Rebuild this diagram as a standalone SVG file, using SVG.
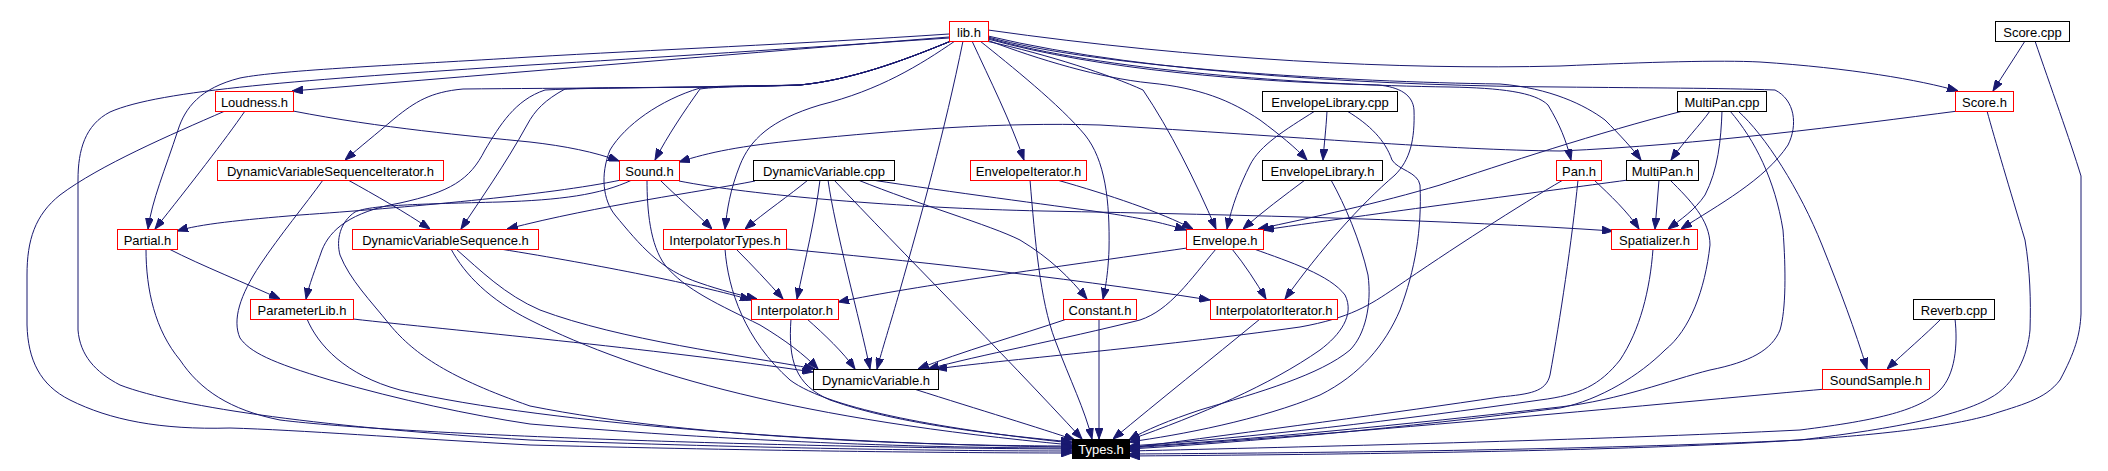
<svg xmlns="http://www.w3.org/2000/svg" width="2108" height="471" viewBox="0 0 2108 471">
<style>
.n rect{fill:#fff;stroke:#f00;stroke-width:1}
.n.b rect{stroke:#000}
.n.t rect{fill:#000;stroke:#000}
.n text{font-family:"Liberation Sans",Arial,Helvetica,sans-serif;font-size:13px;text-anchor:middle;fill:#000}
.n.t text{fill:#fff}
#edges path{fill:none;stroke:#191970;stroke-width:1;marker-end:url(#a)}
</style>
<defs>
<marker id="a" markerWidth="11" markerHeight="8" refX="11" refY="4" orient="auto" markerUnits="userSpaceOnUse">
<path d="M0,0 L11,4 L0,8 z" fill="#191970" stroke="#191970" stroke-width="1"/>
</marker>
</defs>
<rect x="0" y="0" width="2108" height="471" fill="#fff"/>
<g id="edges">
<path d="M949,37 C 760,52 520,72 292,91"/>
<path d="M949,34 C 800,44 650,50 530,57 C 400,65 280,70 240,78 C 200,88 185,108 178,130 C 165,170 152,200 148,229"/>
<path d="M949,38 C 800,48 650,58 530,65 C 300,80 160,90 110,112 C 85,125 78,150 78,180 L 78,330 C 80,355 95,372 120,385 C 180,408 330,428 530,440 C 800,450 1000,451 1072,451"/>
<path d="M951,41 C 900,62 850,80 800,85 C 700,88 560,88 463,89 C 430,92 415,102 395,118 C 375,135 360,147 345,160"/>
<path d="M951,41 C 900,62 850,80 800,85 C 760,87 720,86 700,89 C 685,110 668,135 655,160"/>
<path d="M951,41 C 900,62 850,80 800,85 C 700,88 600,87 565,89 C 545,100 535,110 527,125 C 505,165 480,200 461,229"/>
<path d="M951,41 C 900,62 850,80 800,85 C 700,88 600,87 545,90 C 515,100 500,125 485,150 C 470,180 450,192 400,203 C 350,212 330,230 322,250 C 315,270 309,285 306,299"/>
<path d="M955,41 C 920,65 880,90 820,105 C 770,120 750,140 740,165 C 730,190 727,210 725,229"/>
<path d="M951,41 C 900,62 850,80 800,85 C 760,86 720,85 700,88 C 660,100 625,125 610,150 C 600,175 603,200 615,215 C 640,245 660,270 700,283 C 720,290 740,295 757,299"/>
<path d="M963,41 C 945,130 920,220 900,290 C 890,325 882,350 877,369"/>
<path d="M972,41 C 990,80 1010,120 1024,160"/>
<path d="M980,41 C 1010,65 1060,105 1085,135 C 1105,160 1110,200 1109,250 C 1108,275 1105,290 1103,299"/>
<path d="M986,41 C 1050,55 1110,75 1143,90 C 1170,130 1195,180 1216,229"/>
<path d="M987,40 C 1040,60 1100,78 1150,83 C 1200,88 1230,100 1260,120 C 1280,135 1295,147 1307,160"/>
<path d="M988,39 C 1100,70 1250,82 1378,85 C 1400,87 1413,95 1414,110 C 1415,140 1410,160 1395,175 C 1360,205 1320,250 1285,299"/>
<path d="M988,38 C 1100,70 1300,85 1450,87 C 1500,88 1535,92 1548,105 C 1560,125 1566,140 1571,160"/>
<path d="M988,37 C 1100,68 1350,82 1500,84 C 1550,88 1585,105 1605,120 C 1620,135 1632,148 1641,160"/>
<path d="M988,36 C 1150,75 1400,86 1560,87 C 1650,88 1720,88 1775,90 C 1795,100 1798,125 1788,145 C 1765,180 1718,205 1681,229"/>
<path d="M988,30 C 1200,60 1400,70 1560,66 C 1650,62 1720,60 1760,62 C 1850,68 1920,80 1958,91"/>
<path d="M245,111 C 225,140 190,185 155,229"/>
<path d="M293,111 C 380,128 470,136 530,142 C 565,146 595,152 619,161"/>
<path d="M225,111 C 170,135 100,165 60,195 C 35,215 27,240 27,275 L 27,325 C 28,360 40,385 70,400 C 110,420 160,430 230,428 C 300,430 400,438 530,445 C 800,452 1000,453 1072,453"/>
<path d="M2025,41 C 2015,57 2003,75 1993,91"/>
<path d="M2035,41 C 2050,85 2070,140 2081,176 L 2081,314 C 2080,335 2075,352 2060,380 C 2045,400 2020,405 1990,415 C 1900,440 1700,452 1129,456"/>
<path d="M1958,111 C 1850,125 1700,145 1560,151 C 1450,150 1300,137 1100,125 C 1000,122 900,130 800,140 C 740,146 710,152 679,162"/>
<path d="M1987,111 C 1995,140 2010,190 2025,240 C 2030,270 2031,300 2030,330 C 2028,355 2015,385 1990,398 C 1960,415 1900,428 1800,440 C 1600,450 1300,453 1129,454"/>
<path d="M1327,111 C 1326,130 1324,145 1323,160"/>
<path d="M1315,111 C 1285,130 1260,145 1250,165 C 1240,185 1232,205 1227,229"/>
<path d="M1347,111 C 1370,125 1385,140 1392,160 C 1398,170 1418,172 1420,185 C 1422,230 1415,270 1400,310 C 1385,345 1360,375 1320,395 C 1260,420 1180,435 1129,442"/>
<path d="M1710,111 C 1700,125 1685,140 1671,160"/>
<path d="M1722,111 C 1721,140 1718,170 1705,195 C 1695,210 1680,220 1668,229"/>
<path d="M1683,111 C 1600,132 1500,165 1440,185 C 1380,203 1310,218 1258,229"/>
<path d="M1730,111 C 1755,140 1775,180 1783,230 C 1786,270 1786,310 1780,330 C 1772,350 1750,362 1710,370 C 1670,380 1620,400 1560,407 C 1400,425 1250,440 1129,447"/>
<path d="M1738,111 C 1765,135 1800,190 1822,245 C 1840,290 1855,330 1867,369"/>
<path d="M348,180 C 375,195 405,212 430,229"/>
<path d="M323,180 C 305,205 280,235 260,265 C 240,295 232,320 240,338 C 250,352 270,362 330,380 C 400,400 470,415 530,424 C 800,447 1000,448 1072,448"/>
<path d="M621,180 C 550,195 400,208 300,215 C 240,220 200,224 177,231"/>
<path d="M632,180 C 600,195 560,200 500,202 C 420,204 370,205 355,212 C 340,222 336,240 340,255 C 350,280 370,300 390,325 C 415,355 450,378 530,406 C 700,440 950,446 1072,446"/>
<path d="M647,180 C 647,210 650,245 665,265 C 685,290 720,305 760,325 C 785,340 805,355 818,369"/>
<path d="M660,180 C 675,195 695,212 712,229"/>
<path d="M679,181 C 750,195 900,208 1043,211 C 1250,215 1450,220 1613,231"/>
<path d="M755,181 C 700,192 600,205 507,229"/>
<path d="M808,180 C 790,195 765,212 745,229"/>
<path d="M820,180 C 815,220 805,260 797,299"/>
<path d="M828,180 C 835,230 860,320 870,369"/>
<path d="M834,180 C 900,250 1000,350 1082,439"/>
<path d="M858,180 C 920,205 990,225 1020,240 C 1050,258 1070,278 1087,299"/>
<path d="M872,180 C 950,192 1050,205 1100,212 C 1140,218 1160,222 1186,230"/>
<path d="M1057,180 C 1110,195 1160,212 1193,229"/>
<path d="M1030,180 C 1035,240 1040,300 1055,340 C 1070,380 1085,410 1092,439"/>
<path d="M1305,180 C 1285,195 1262,212 1243,229"/>
<path d="M1331,180 C 1345,205 1360,240 1368,275 C 1372,305 1365,335 1350,350 C 1320,375 1260,392 1200,410 C 1170,420 1145,430 1129,440"/>
<path d="M1594,180 C 1610,195 1628,212 1639,229"/>
<path d="M1578,180 C 1572,240 1560,320 1550,375 C 1546,392 1530,394 1500,397 C 1400,412 1250,432 1129,448"/>
<path d="M1563,180 C 1520,205 1450,250 1395,288 C 1370,305 1350,318 1300,327 C 1150,348 1000,360 936,369"/>
<path d="M1659,180 L 1655,229"/>
<path d="M1628,180 C 1540,192 1400,210 1263,230"/>
<path d="M1670,180 C 1690,200 1710,220 1710,245 C 1705,290 1690,330 1665,350 C 1640,375 1600,400 1560,408 C 1400,428 1250,442 1129,449"/>
<path d="M1653,249 C 1650,290 1640,330 1620,360 C 1600,385 1580,395 1540,400 C 1400,420 1250,438 1129,446"/>
<path d="M169,249 C 200,265 250,285 280,299"/>
<path d="M146,249 C 146,290 155,330 180,360 C 200,390 230,410 280,420 C 400,435 800,448 1072,449"/>
<path d="M500,249 C 600,265 700,285 751,300"/>
<path d="M456,249 C 480,270 505,295 540,310 C 620,340 740,355 815,369"/>
<path d="M451,249 C 465,275 490,300 530,320 C 640,375 800,420 1072,445"/>
<path d="M736,249 C 752,265 768,282 783,299"/>
<path d="M725,249 C 728,290 745,340 790,380 C 830,410 950,430 1072,443"/>
<path d="M786,249 C 900,260 1050,275 1210,300"/>
<path d="M353,319 C 450,330 650,348 813,372"/>
<path d="M307,319 C 318,345 345,375 400,390 C 550,425 850,445 1072,447"/>
<path d="M807,319 C 825,335 843,352 855,369"/>
<path d="M791,319 C 788,360 795,385 830,400 C 900,425 1000,435 1072,442"/>
<path d="M1187,248 C 1050,268 920,285 838,302"/>
<path d="M1216,249 C 1190,280 1170,310 1140,320 C 1060,340 980,355 928,369"/>
<path d="M1232,249 C 1245,265 1256,282 1266,299"/>
<path d="M1254,249 C 1290,262 1330,275 1345,295 C 1355,315 1340,335 1320,350 C 1270,385 1200,415 1129,440"/>
<path d="M1067,319 C 1020,335 960,352 918,369"/>
<path d="M1099,319 L 1099,439"/>
<path d="M1260,319 C 1210,360 1160,400 1113,439"/>
<path d="M1941,319 C 1925,335 1905,352 1887,369"/>
<path d="M1955,319 C 1958,345 1955,375 1940,390 C 1920,410 1880,420 1800,430 C 1600,440 1300,447 1129,451"/>
<path d="M1826,389 C 1700,400 1400,430 1129,448"/>
<path d="M914,389 C 980,410 1040,428 1075,440"/>
</g>
<g id="lib_h" class="n"><rect x="949.5" y="21.5" width="39" height="20"/><text x="969" y="36.5">lib.h</text></g>
<g id="Score_cpp" class="n b"><rect x="1995.5" y="21.5" width="74" height="20"/><text x="2032.5" y="36.5">Score.cpp</text></g>
<g id="Loudness_h" class="n"><rect x="215.5" y="91.5" width="78" height="20"/><text x="254.5" y="106.5">Loudness.h</text></g>
<g id="EnvelopeLibrary_cpp" class="n b"><rect x="1262.5" y="91.5" width="135" height="20"/><text x="1330" y="106.5">EnvelopeLibrary.cpp</text></g>
<g id="MultiPan_cpp" class="n b"><rect x="1677.5" y="91.5" width="89" height="20"/><text x="1722" y="106.5">MultiPan.cpp</text></g>
<g id="Score_h" class="n"><rect x="1955.5" y="91.5" width="58" height="20"/><text x="1984.5" y="106.5">Score.h</text></g>
<g id="DynamicVariableSequenceIterator_h" class="n"><rect x="217.5" y="160.5" width="226" height="20"/><text x="330.5" y="175.5">DynamicVariableSequenceIterator.h</text></g>
<g id="Sound_h" class="n"><rect x="619.5" y="160.5" width="60" height="20"/><text x="649.5" y="175.5">Sound.h</text></g>
<g id="DynamicVariable_cpp" class="n b"><rect x="753.5" y="160.5" width="141" height="20"/><text x="824" y="175.5">DynamicVariable.cpp</text></g>
<g id="EnvelopeIterator_h" class="n"><rect x="970.5" y="160.5" width="116" height="20"/><text x="1028.5" y="175.5">EnvelopeIterator.h</text></g>
<g id="EnvelopeLibrary_h" class="n b"><rect x="1262.5" y="160.5" width="120" height="20"/><text x="1322.5" y="175.5">EnvelopeLibrary.h</text></g>
<g id="Pan_h" class="n"><rect x="1556.5" y="160.5" width="45" height="20"/><text x="1579" y="175.5">Pan.h</text></g>
<g id="MultiPan_h" class="n b"><rect x="1626.5" y="160.5" width="72" height="20"/><text x="1662.5" y="175.5">MultiPan.h</text></g>
<g id="Partial_h" class="n"><rect x="117.5" y="229.5" width="60" height="20"/><text x="147.5" y="244.5">Partial.h</text></g>
<g id="DynamicVariableSequence_h" class="n"><rect x="352.5" y="229.5" width="186" height="20"/><text x="445.5" y="244.5">DynamicVariableSequence.h</text></g>
<g id="InterpolatorTypes_h" class="n"><rect x="663.5" y="229.5" width="123" height="20"/><text x="725" y="244.5">InterpolatorTypes.h</text></g>
<g id="Envelope_h" class="n"><rect x="1186.5" y="229.5" width="77" height="20"/><text x="1225" y="244.5">Envelope.h</text></g>
<g id="Spatializer_h" class="n"><rect x="1611.5" y="229.5" width="86" height="20"/><text x="1654.5" y="244.5">Spatializer.h</text></g>
<g id="ParameterLib_h" class="n"><rect x="250.5" y="299.5" width="103" height="20"/><text x="302" y="314.5">ParameterLib.h</text></g>
<g id="Interpolator_h" class="n"><rect x="751.5" y="299.5" width="87" height="20"/><text x="795" y="314.5">Interpolator.h</text></g>
<g id="Constant_h" class="n"><rect x="1063.5" y="299.5" width="73" height="20"/><text x="1100" y="314.5">Constant.h</text></g>
<g id="InterpolatorIterator_h" class="n"><rect x="1210.5" y="299.5" width="127" height="20"/><text x="1274" y="314.5">InterpolatorIterator.h</text></g>
<g id="Reverb_cpp" class="n b"><rect x="1913.5" y="299.5" width="81" height="20"/><text x="1954" y="314.5">Reverb.cpp</text></g>
<g id="DynamicVariable_h" class="n b"><rect x="813.5" y="369.5" width="125" height="20"/><text x="876" y="384.5">DynamicVariable.h</text></g>
<g id="SoundSample_h" class="n"><rect x="1822.5" y="369.5" width="107" height="20"/><text x="1876" y="384.5">SoundSample.h</text></g>
<g id="Types_h" class="n t"><rect x="1072.5" y="439.5" width="57" height="19"/><text x="1101" y="454">Types.h</text></g>
</svg>
